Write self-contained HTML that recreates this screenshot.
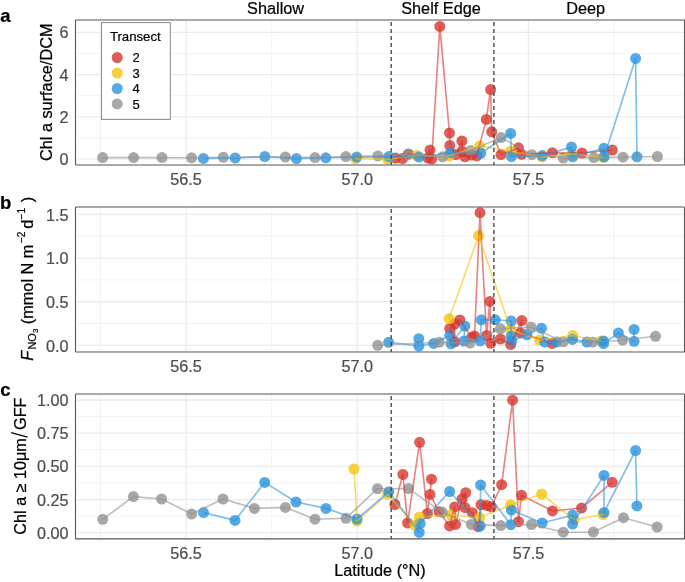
<!DOCTYPE html><html><head><meta charset="utf-8"><style>html,body{margin:0;padding:0;background:#fff;}svg{display:block;will-change:transform;}text{font-family:"Liberation Sans",sans-serif;stroke:currentColor;stroke-width:0.22px;}</style></head><body>
<svg width="685" height="582" viewBox="0 0 685 582">
<rect width="685" height="582" fill="#fff"/>
<clipPath id="clipa"><rect x="75.5" y="20.0" width="609.0" height="144.95"/></clipPath>
<clipPath id="gclipa"><rect x="77" y="20.6" width="606" height="143.75"/></clipPath>
<g clip-path="url(#gclipa)"><line x1="75.5" x2="684.5" y1="137.97" y2="137.97" stroke="#f2f2f2" stroke-width="0.9"/><line x1="75.5" x2="684.5" y1="95.71" y2="95.71" stroke="#f2f2f2" stroke-width="0.9"/><line x1="75.5" x2="684.5" y1="53.45" y2="53.45" stroke="#f2f2f2" stroke-width="0.9"/><line x1="100.45" x2="100.45" y1="20.0" y2="164.95" stroke="#f2f2f2" stroke-width="0.9"/><line x1="271.65" x2="271.65" y1="20.0" y2="164.95" stroke="#f2f2f2" stroke-width="0.9"/><line x1="442.85" x2="442.85" y1="20.0" y2="164.95" stroke="#f2f2f2" stroke-width="0.9"/><line x1="614.05" x2="614.05" y1="20.0" y2="164.95" stroke="#f2f2f2" stroke-width="0.9"/><line x1="75.5" x2="684.5" y1="159.10" y2="159.10" stroke="#ebebeb" stroke-width="1.3"/><line x1="75.5" x2="684.5" y1="116.84" y2="116.84" stroke="#ebebeb" stroke-width="1.3"/><line x1="75.5" x2="684.5" y1="74.58" y2="74.58" stroke="#ebebeb" stroke-width="1.3"/><line x1="75.5" x2="684.5" y1="32.32" y2="32.32" stroke="#ebebeb" stroke-width="1.3"/><line x1="186.05" x2="186.05" y1="20.0" y2="164.95" stroke="#ebebeb" stroke-width="1.3"/><line x1="357.25" x2="357.25" y1="20.0" y2="164.95" stroke="#ebebeb" stroke-width="1.3"/><line x1="528.45" x2="528.45" y1="20.0" y2="164.95" stroke="#ebebeb" stroke-width="1.3"/></g>
<g clip-path="url(#clipa)">
<circle cx="395.5" cy="158.0" r="5.5" fill="#d7362d" fill-opacity="0.8"/>
<circle cx="402.5" cy="158.5" r="5.5" fill="#d7362d" fill-opacity="0.8"/>
<circle cx="408.4" cy="153.9" r="5.5" fill="#d7362d" fill-opacity="0.8"/>
<circle cx="428.0" cy="158.0" r="5.5" fill="#d7362d" fill-opacity="0.8"/>
<circle cx="430.0" cy="150.1" r="5.5" fill="#d7362d" fill-opacity="0.8"/>
<circle cx="431.7" cy="159.1" r="5.5" fill="#d7362d" fill-opacity="0.8"/>
<circle cx="439.8" cy="26.4" r="5.5" fill="#d7362d" fill-opacity="0.8"/>
<circle cx="449.5" cy="133.0" r="5.5" fill="#d7362d" fill-opacity="0.8"/>
<circle cx="449.8" cy="145.4" r="5.5" fill="#d7362d" fill-opacity="0.8"/>
<circle cx="455.8" cy="154.6" r="5.5" fill="#d7362d" fill-opacity="0.8"/>
<circle cx="461.9" cy="141.0" r="5.5" fill="#d7362d" fill-opacity="0.8"/>
<circle cx="462.3" cy="151.5" r="5.5" fill="#d7362d" fill-opacity="0.8"/>
<circle cx="465.0" cy="156.8" r="5.5" fill="#d7362d" fill-opacity="0.8"/>
<circle cx="471.5" cy="155.0" r="5.5" fill="#d7362d" fill-opacity="0.8"/>
<circle cx="476.8" cy="155.9" r="5.5" fill="#d7362d" fill-opacity="0.8"/>
<circle cx="486.3" cy="119.4" r="5.5" fill="#d7362d" fill-opacity="0.8"/>
<circle cx="490.6" cy="89.6" r="5.5" fill="#d7362d" fill-opacity="0.8"/>
<circle cx="491.7" cy="131.8" r="5.5" fill="#d7362d" fill-opacity="0.8"/>
<circle cx="501.0" cy="154.6" r="5.5" fill="#d7362d" fill-opacity="0.8"/>
<circle cx="518.5" cy="147.8" r="5.5" fill="#d7362d" fill-opacity="0.8"/>
<circle cx="521.6" cy="154.3" r="5.5" fill="#d7362d" fill-opacity="0.8"/>
<circle cx="552.4" cy="152.7" r="5.5" fill="#d7362d" fill-opacity="0.8"/>
<circle cx="582.0" cy="153.0" r="5.5" fill="#d7362d" fill-opacity="0.8"/>
<circle cx="612.3" cy="150.0" r="5.5" fill="#d7362d" fill-opacity="0.8"/>
<circle cx="355.6" cy="158.6" r="5.5" fill="#f5c40f" fill-opacity="0.8"/>
<circle cx="387.5" cy="159.2" r="5.5" fill="#f5c40f" fill-opacity="0.8"/>
<circle cx="416.5" cy="155.6" r="5.5" fill="#f5c40f" fill-opacity="0.8"/>
<circle cx="449.0" cy="156.0" r="5.5" fill="#f5c40f" fill-opacity="0.8"/>
<circle cx="479.8" cy="145.8" r="5.5" fill="#f5c40f" fill-opacity="0.8"/>
<circle cx="511.0" cy="151.2" r="5.5" fill="#f5c40f" fill-opacity="0.8"/>
<circle cx="542.0" cy="157.0" r="5.5" fill="#f5c40f" fill-opacity="0.8"/>
<circle cx="572.0" cy="153.9" r="5.5" fill="#f5c40f" fill-opacity="0.8"/>
<circle cx="603.0" cy="157.5" r="5.5" fill="#f5c40f" fill-opacity="0.8"/>
<circle cx="203.4" cy="158.4" r="5.5" fill="#2b95e0" fill-opacity="0.8"/>
<circle cx="235.2" cy="158.0" r="5.5" fill="#2b95e0" fill-opacity="0.8"/>
<circle cx="264.8" cy="156.5" r="5.5" fill="#2b95e0" fill-opacity="0.8"/>
<circle cx="296.4" cy="158.6" r="5.5" fill="#2b95e0" fill-opacity="0.8"/>
<circle cx="325.8" cy="157.8" r="5.5" fill="#2b95e0" fill-opacity="0.8"/>
<circle cx="356.8" cy="157.1" r="5.5" fill="#2b95e0" fill-opacity="0.8"/>
<circle cx="388.9" cy="156.6" r="5.5" fill="#2b95e0" fill-opacity="0.8"/>
<circle cx="419.0" cy="157.1" r="5.5" fill="#2b95e0" fill-opacity="0.8"/>
<circle cx="450.1" cy="152.8" r="5.5" fill="#2b95e0" fill-opacity="0.8"/>
<circle cx="480.7" cy="153.3" r="5.5" fill="#2b95e0" fill-opacity="0.8"/>
<circle cx="510.7" cy="133.4" r="5.5" fill="#2b95e0" fill-opacity="0.8"/>
<circle cx="511.5" cy="156.6" r="5.5" fill="#2b95e0" fill-opacity="0.8"/>
<circle cx="542.3" cy="155.6" r="5.5" fill="#2b95e0" fill-opacity="0.8"/>
<circle cx="571.5" cy="147.1" r="5.5" fill="#2b95e0" fill-opacity="0.8"/>
<circle cx="572.7" cy="156.8" r="5.5" fill="#2b95e0" fill-opacity="0.8"/>
<circle cx="603.9" cy="148.3" r="5.5" fill="#2b95e0" fill-opacity="0.8"/>
<circle cx="604.2" cy="156.8" r="5.5" fill="#2b95e0" fill-opacity="0.8"/>
<circle cx="635.6" cy="58.4" r="5.5" fill="#2b95e0" fill-opacity="0.8"/>
<circle cx="637.0" cy="156.8" r="5.5" fill="#2b95e0" fill-opacity="0.8"/>
<circle cx="102.6" cy="157.6" r="5.5" fill="#929292" fill-opacity="0.8"/>
<circle cx="133.6" cy="157.6" r="5.5" fill="#929292" fill-opacity="0.8"/>
<circle cx="162.0" cy="157.6" r="5.5" fill="#929292" fill-opacity="0.8"/>
<circle cx="191.6" cy="157.8" r="5.5" fill="#929292" fill-opacity="0.8"/>
<circle cx="223.3" cy="157.3" r="5.5" fill="#929292" fill-opacity="0.8"/>
<circle cx="285.4" cy="157.0" r="5.5" fill="#929292" fill-opacity="0.8"/>
<circle cx="315.0" cy="157.6" r="5.5" fill="#929292" fill-opacity="0.8"/>
<circle cx="345.9" cy="156.6" r="5.5" fill="#929292" fill-opacity="0.8"/>
<circle cx="377.8" cy="155.9" r="5.5" fill="#929292" fill-opacity="0.8"/>
<circle cx="408.0" cy="154.5" r="5.5" fill="#929292" fill-opacity="0.8"/>
<circle cx="442.6" cy="156.8" r="5.5" fill="#929292" fill-opacity="0.8"/>
<circle cx="470.6" cy="150.6" r="5.5" fill="#929292" fill-opacity="0.8"/>
<circle cx="501.1" cy="137.6" r="5.5" fill="#929292" fill-opacity="0.8"/>
<circle cx="531.8" cy="154.7" r="5.5" fill="#929292" fill-opacity="0.8"/>
<circle cx="563.3" cy="158.0" r="5.5" fill="#929292" fill-opacity="0.8"/>
<circle cx="593.9" cy="157.6" r="5.5" fill="#929292" fill-opacity="0.8"/>
<circle cx="623.0" cy="157.2" r="5.5" fill="#929292" fill-opacity="0.8"/>
<circle cx="657.4" cy="156.5" r="5.5" fill="#929292" fill-opacity="0.8"/>
<polyline points="395.5,158.0 402.5,158.5 408.4,153.9 428.0,158.0 430.0,150.1 431.7,159.1 439.8,26.4 449.5,133.0 449.8,145.4 455.8,154.6 461.9,141.0 462.3,151.5 465.0,156.8 471.5,155.0 476.8,155.9 486.3,119.4 490.6,89.6 491.7,131.8 501.0,154.6 518.5,147.8 521.6,154.3 552.4,152.7 582.0,153.0 612.3,150.0" fill="none" stroke="#d7362d" stroke-opacity="0.6" stroke-width="1.65" stroke-linejoin="round"/>
<polyline points="355.6,158.6 387.5,159.2 416.5,155.6 449.0,156.0 479.8,145.8 511.0,151.2 542.0,157.0 572.0,153.9 603.0,157.5" fill="none" stroke="#f5c40f" stroke-opacity="0.6" stroke-width="1.65" stroke-linejoin="round"/>
<polyline points="203.4,158.4 235.2,158.0 264.8,156.5 296.4,158.6 325.8,157.8 356.8,157.1 388.9,156.6 419.0,157.1 450.1,152.8 480.7,153.3 510.7,133.4 511.5,156.6 542.3,155.6 571.5,147.1 572.7,156.8 603.9,148.3 604.2,156.8 635.6,58.4 637.0,156.8" fill="none" stroke="#2b95e0" stroke-opacity="0.6" stroke-width="1.65" stroke-linejoin="round"/>
<polyline points="102.6,157.6 133.6,157.6 162.0,157.6 191.6,157.8 223.3,157.3 285.4,157.0 315.0,157.6 345.9,156.6 377.8,155.9 408.0,154.5 442.6,156.8 470.6,150.6 501.1,137.6 531.8,154.7 563.3,158.0 593.9,157.6 623.0,157.2 657.4,156.5" fill="none" stroke="#929292" stroke-opacity="0.6" stroke-width="1.65" stroke-linejoin="round"/>
</g>
<line x1="391.19" x2="391.19" y1="22.0" y2="164.95" stroke="#4a4a4a" stroke-width="1.4" stroke-dasharray="4 3"/>
<line x1="493.91" x2="493.91" y1="22.0" y2="164.95" stroke="#4a4a4a" stroke-width="1.4" stroke-dasharray="4 3"/>
<line x1="75.5" x2="684.5" y1="20.0" y2="20.0" stroke="#555" stroke-width="1.1"/>
<line x1="75.5" x2="684.5" y1="164.95" y2="164.95" stroke="#555" stroke-width="1.1"/>
<line x1="75.5" x2="75.5" y1="20.0" y2="164.95" stroke="#555" stroke-width="1.1"/>
<line x1="684.5" x2="684.5" y1="20.0" y2="164.95" stroke="#555" stroke-width="1.1"/>
<text x="68.5" y="165.20" font-size="16.2" fill="#4d4d4d" color="#4d4d4d" text-anchor="end">0</text>
<text x="68.5" y="122.94" font-size="16.2" fill="#4d4d4d" color="#4d4d4d" text-anchor="end">2</text>
<text x="68.5" y="80.68" font-size="16.2" fill="#4d4d4d" color="#4d4d4d" text-anchor="end">4</text>
<text x="68.5" y="38.42" font-size="16.2" fill="#4d4d4d" color="#4d4d4d" text-anchor="end">6</text>
<text x="186.05" y="184.55" font-size="16.2" fill="#4d4d4d" color="#4d4d4d" text-anchor="middle">56.5</text>
<text x="357.25" y="184.55" font-size="16.2" fill="#4d4d4d" color="#4d4d4d" text-anchor="middle">57.0</text>
<text x="528.45" y="184.55" font-size="16.2" fill="#4d4d4d" color="#4d4d4d" text-anchor="middle">57.5</text>
<clipPath id="clipb"><rect x="75.5" y="207.0" width="609.0" height="145.0"/></clipPath>
<clipPath id="gclipb"><rect x="77" y="207.6" width="606" height="143.8"/></clipPath>
<g clip-path="url(#gclipb)"><line x1="75.5" x2="684.5" y1="323.57" y2="323.57" stroke="#f2f2f2" stroke-width="0.9"/><line x1="75.5" x2="684.5" y1="279.92" y2="279.92" stroke="#f2f2f2" stroke-width="0.9"/><line x1="75.5" x2="684.5" y1="236.27" y2="236.27" stroke="#f2f2f2" stroke-width="0.9"/><line x1="100.45" x2="100.45" y1="207.0" y2="352.0" stroke="#f2f2f2" stroke-width="0.9"/><line x1="271.65" x2="271.65" y1="207.0" y2="352.0" stroke="#f2f2f2" stroke-width="0.9"/><line x1="442.85" x2="442.85" y1="207.0" y2="352.0" stroke="#f2f2f2" stroke-width="0.9"/><line x1="614.05" x2="614.05" y1="207.0" y2="352.0" stroke="#f2f2f2" stroke-width="0.9"/><line x1="75.5" x2="684.5" y1="345.40" y2="345.40" stroke="#ebebeb" stroke-width="1.3"/><line x1="75.5" x2="684.5" y1="301.75" y2="301.75" stroke="#ebebeb" stroke-width="1.3"/><line x1="75.5" x2="684.5" y1="258.10" y2="258.10" stroke="#ebebeb" stroke-width="1.3"/><line x1="75.5" x2="684.5" y1="214.45" y2="214.45" stroke="#ebebeb" stroke-width="1.3"/><line x1="186.05" x2="186.05" y1="207.0" y2="352.0" stroke="#ebebeb" stroke-width="1.3"/><line x1="357.25" x2="357.25" y1="207.0" y2="352.0" stroke="#ebebeb" stroke-width="1.3"/><line x1="528.45" x2="528.45" y1="207.0" y2="352.0" stroke="#ebebeb" stroke-width="1.3"/></g>
<g clip-path="url(#clipb)">
<circle cx="449.8" cy="328.4" r="5.5" fill="#d7362d" fill-opacity="0.8"/>
<circle cx="454.7" cy="341.8" r="5.5" fill="#d7362d" fill-opacity="0.8"/>
<circle cx="454.7" cy="324.0" r="5.5" fill="#d7362d" fill-opacity="0.8"/>
<circle cx="459.9" cy="320.0" r="5.5" fill="#d7362d" fill-opacity="0.8"/>
<circle cx="471.6" cy="337.3" r="5.5" fill="#d7362d" fill-opacity="0.8"/>
<circle cx="474.5" cy="336.0" r="5.5" fill="#d7362d" fill-opacity="0.8"/>
<circle cx="480.0" cy="212.7" r="5.5" fill="#d7362d" fill-opacity="0.8"/>
<circle cx="486.5" cy="335.4" r="5.5" fill="#d7362d" fill-opacity="0.8"/>
<circle cx="489.9" cy="301.4" r="5.5" fill="#d7362d" fill-opacity="0.8"/>
<circle cx="490.7" cy="343.3" r="5.5" fill="#d7362d" fill-opacity="0.8"/>
<circle cx="500.4" cy="339.0" r="5.5" fill="#d7362d" fill-opacity="0.8"/>
<circle cx="510.6" cy="344.5" r="5.5" fill="#d7362d" fill-opacity="0.8"/>
<circle cx="521.8" cy="320.6" r="5.5" fill="#d7362d" fill-opacity="0.8"/>
<circle cx="520.5" cy="332.9" r="5.5" fill="#d7362d" fill-opacity="0.8"/>
<circle cx="552.0" cy="343.4" r="5.5" fill="#d7362d" fill-opacity="0.8"/>
<circle cx="449.2" cy="318.7" r="5.5" fill="#f5c40f" fill-opacity="0.8"/>
<circle cx="478.6" cy="235.6" r="5.5" fill="#f5c40f" fill-opacity="0.8"/>
<circle cx="510.6" cy="329.4" r="5.5" fill="#f5c40f" fill-opacity="0.8"/>
<circle cx="539.6" cy="340.1" r="5.5" fill="#f5c40f" fill-opacity="0.8"/>
<circle cx="572.8" cy="335.5" r="5.5" fill="#f5c40f" fill-opacity="0.8"/>
<circle cx="601.0" cy="341.0" r="5.5" fill="#f5c40f" fill-opacity="0.8"/>
<circle cx="388.6" cy="342.3" r="5.5" fill="#2b95e0" fill-opacity="0.8"/>
<circle cx="418.8" cy="338.7" r="5.5" fill="#2b95e0" fill-opacity="0.8"/>
<circle cx="418.8" cy="346.0" r="5.5" fill="#2b95e0" fill-opacity="0.8"/>
<circle cx="433.7" cy="343.4" r="5.5" fill="#2b95e0" fill-opacity="0.8"/>
<circle cx="449.8" cy="335.3" r="5.5" fill="#2b95e0" fill-opacity="0.8"/>
<circle cx="451.0" cy="343.8" r="5.5" fill="#2b95e0" fill-opacity="0.8"/>
<circle cx="464.8" cy="326.0" r="5.5" fill="#2b95e0" fill-opacity="0.8"/>
<circle cx="464.0" cy="341.0" r="5.5" fill="#2b95e0" fill-opacity="0.8"/>
<circle cx="480.2" cy="340.9" r="5.5" fill="#2b95e0" fill-opacity="0.8"/>
<circle cx="481.3" cy="319.8" r="5.5" fill="#2b95e0" fill-opacity="0.8"/>
<circle cx="495.2" cy="319.8" r="5.5" fill="#2b95e0" fill-opacity="0.8"/>
<circle cx="511.2" cy="321.0" r="5.5" fill="#2b95e0" fill-opacity="0.8"/>
<circle cx="511.2" cy="336.3" r="5.5" fill="#2b95e0" fill-opacity="0.8"/>
<circle cx="511.6" cy="341.0" r="5.5" fill="#2b95e0" fill-opacity="0.8"/>
<circle cx="527.0" cy="334.8" r="5.5" fill="#2b95e0" fill-opacity="0.8"/>
<circle cx="541.5" cy="328.3" r="5.5" fill="#2b95e0" fill-opacity="0.8"/>
<circle cx="544.8" cy="342.0" r="5.5" fill="#2b95e0" fill-opacity="0.8"/>
<circle cx="556.6" cy="342.0" r="5.5" fill="#2b95e0" fill-opacity="0.8"/>
<circle cx="572.4" cy="339.4" r="5.5" fill="#2b95e0" fill-opacity="0.8"/>
<circle cx="586.9" cy="342.0" r="5.5" fill="#2b95e0" fill-opacity="0.8"/>
<circle cx="603.6" cy="340.9" r="5.5" fill="#2b95e0" fill-opacity="0.8"/>
<circle cx="603.6" cy="343.7" r="5.5" fill="#2b95e0" fill-opacity="0.8"/>
<circle cx="618.4" cy="333.0" r="5.5" fill="#2b95e0" fill-opacity="0.8"/>
<circle cx="634.1" cy="341.3" r="5.5" fill="#2b95e0" fill-opacity="0.8"/>
<circle cx="634.1" cy="329.4" r="5.5" fill="#2b95e0" fill-opacity="0.8"/>
<circle cx="377.7" cy="345.3" r="5.5" fill="#929292" fill-opacity="0.8"/>
<circle cx="439.3" cy="342.2" r="5.5" fill="#929292" fill-opacity="0.8"/>
<circle cx="470.0" cy="343.0" r="5.5" fill="#929292" fill-opacity="0.8"/>
<circle cx="500.4" cy="328.8" r="5.5" fill="#929292" fill-opacity="0.8"/>
<circle cx="531.0" cy="327.0" r="5.5" fill="#929292" fill-opacity="0.8"/>
<circle cx="563.2" cy="341.8" r="5.5" fill="#929292" fill-opacity="0.8"/>
<circle cx="592.8" cy="342.2" r="5.5" fill="#929292" fill-opacity="0.8"/>
<circle cx="622.6" cy="340.2" r="5.5" fill="#929292" fill-opacity="0.8"/>
<circle cx="655.5" cy="336.3" r="5.5" fill="#929292" fill-opacity="0.8"/>
<polyline points="449.8,328.4 454.7,341.8 454.7,324.0 459.9,320.0 471.6,337.3 474.5,336.0 480.0,212.7 486.5,335.4 489.9,301.4 490.7,343.3 500.4,339.0 510.6,344.5 521.8,320.6 520.5,332.9 552.0,343.4" fill="none" stroke="#d7362d" stroke-opacity="0.6" stroke-width="1.65" stroke-linejoin="round"/>
<polyline points="449.2,318.7 478.6,235.6 510.6,329.4 539.6,340.1 572.8,335.5 601.0,341.0" fill="none" stroke="#f5c40f" stroke-opacity="0.6" stroke-width="1.65" stroke-linejoin="round"/>
<polyline points="388.6,342.3 418.8,346.0 433.7,343.4 449.8,335.3 451.0,343.8 464.8,326.0 464.0,341.0 480.2,340.9 481.3,319.8 495.2,319.8 511.2,321.0 511.2,336.3 511.6,341.0 527.0,334.8 541.5,328.3 544.8,342.0 556.6,342.0 572.4,339.4 586.9,342.0 603.6,340.9 603.6,343.7 618.4,333.0 634.1,341.3 634.1,329.4" fill="none" stroke="#2b95e0" stroke-opacity="0.6" stroke-width="1.65" stroke-linejoin="round"/>
<polyline points="377.7,345.3 439.3,342.2 470.0,343.0 500.4,328.8 531.0,327.0 563.2,341.8 592.8,342.2 622.6,340.2 655.5,336.3" fill="none" stroke="#929292" stroke-opacity="0.6" stroke-width="1.65" stroke-linejoin="round"/>
</g>
<line x1="391.19" x2="391.19" y1="209.0" y2="352.0" stroke="#4a4a4a" stroke-width="1.4" stroke-dasharray="4 3"/>
<line x1="493.91" x2="493.91" y1="209.0" y2="352.0" stroke="#4a4a4a" stroke-width="1.4" stroke-dasharray="4 3"/>
<line x1="75.5" x2="684.5" y1="207.0" y2="207.0" stroke="#555" stroke-width="1.1"/>
<line x1="75.5" x2="684.5" y1="352.0" y2="352.0" stroke="#555" stroke-width="1.1"/>
<line x1="75.5" x2="75.5" y1="207.0" y2="352.0" stroke="#555" stroke-width="1.1"/>
<line x1="684.5" x2="684.5" y1="207.0" y2="352.0" stroke="#555" stroke-width="1.1"/>
<text x="68.5" y="351.50" font-size="16.2" fill="#4d4d4d" color="#4d4d4d" text-anchor="end">0.0</text>
<text x="68.5" y="307.85" font-size="16.2" fill="#4d4d4d" color="#4d4d4d" text-anchor="end">0.5</text>
<text x="68.5" y="264.20" font-size="16.2" fill="#4d4d4d" color="#4d4d4d" text-anchor="end">1.0</text>
<text x="68.5" y="220.55" font-size="16.2" fill="#4d4d4d" color="#4d4d4d" text-anchor="end">1.5</text>
<text x="186.05" y="371.60" font-size="16.2" fill="#4d4d4d" color="#4d4d4d" text-anchor="middle">56.5</text>
<text x="357.25" y="371.60" font-size="16.2" fill="#4d4d4d" color="#4d4d4d" text-anchor="middle">57.0</text>
<text x="528.45" y="371.60" font-size="16.2" fill="#4d4d4d" color="#4d4d4d" text-anchor="middle">57.5</text>
<clipPath id="clipc"><rect x="75.5" y="394.0" width="609.0" height="144.89999999999998"/></clipPath>
<clipPath id="gclipc"><rect x="77" y="394.6" width="606" height="143.7"/></clipPath>
<g clip-path="url(#gclipc)"><line x1="75.5" x2="684.5" y1="516.11" y2="516.11" stroke="#f2f2f2" stroke-width="0.9"/><line x1="75.5" x2="684.5" y1="482.94" y2="482.94" stroke="#f2f2f2" stroke-width="0.9"/><line x1="75.5" x2="684.5" y1="449.76" y2="449.76" stroke="#f2f2f2" stroke-width="0.9"/><line x1="75.5" x2="684.5" y1="416.59" y2="416.59" stroke="#f2f2f2" stroke-width="0.9"/><line x1="100.45" x2="100.45" y1="394.0" y2="538.9" stroke="#f2f2f2" stroke-width="0.9"/><line x1="271.65" x2="271.65" y1="394.0" y2="538.9" stroke="#f2f2f2" stroke-width="0.9"/><line x1="442.85" x2="442.85" y1="394.0" y2="538.9" stroke="#f2f2f2" stroke-width="0.9"/><line x1="614.05" x2="614.05" y1="394.0" y2="538.9" stroke="#f2f2f2" stroke-width="0.9"/><line x1="75.5" x2="684.5" y1="532.70" y2="532.70" stroke="#ebebeb" stroke-width="1.3"/><line x1="75.5" x2="684.5" y1="499.53" y2="499.53" stroke="#ebebeb" stroke-width="1.3"/><line x1="75.5" x2="684.5" y1="466.35" y2="466.35" stroke="#ebebeb" stroke-width="1.3"/><line x1="75.5" x2="684.5" y1="433.18" y2="433.18" stroke="#ebebeb" stroke-width="1.3"/><line x1="75.5" x2="684.5" y1="400.00" y2="400.00" stroke="#ebebeb" stroke-width="1.3"/><line x1="186.05" x2="186.05" y1="394.0" y2="538.9" stroke="#ebebeb" stroke-width="1.3"/><line x1="357.25" x2="357.25" y1="394.0" y2="538.9" stroke="#ebebeb" stroke-width="1.3"/><line x1="528.45" x2="528.45" y1="394.0" y2="538.9" stroke="#ebebeb" stroke-width="1.3"/></g>
<g clip-path="url(#clipc)">
<circle cx="394.9" cy="504.5" r="5.5" fill="#d7362d" fill-opacity="0.8"/>
<circle cx="402.9" cy="474.4" r="5.5" fill="#d7362d" fill-opacity="0.8"/>
<circle cx="407.6" cy="523.0" r="5.5" fill="#d7362d" fill-opacity="0.8"/>
<circle cx="419.6" cy="442.3" r="5.5" fill="#d7362d" fill-opacity="0.8"/>
<circle cx="427.4" cy="513.5" r="5.5" fill="#d7362d" fill-opacity="0.8"/>
<circle cx="431.5" cy="479.2" r="5.5" fill="#d7362d" fill-opacity="0.8"/>
<circle cx="430.0" cy="494.4" r="5.5" fill="#d7362d" fill-opacity="0.8"/>
<circle cx="439.1" cy="511.7" r="5.5" fill="#d7362d" fill-opacity="0.8"/>
<circle cx="449.6" cy="525.9" r="5.5" fill="#d7362d" fill-opacity="0.8"/>
<circle cx="454.7" cy="506.9" r="5.5" fill="#d7362d" fill-opacity="0.8"/>
<circle cx="455.5" cy="524.4" r="5.5" fill="#d7362d" fill-opacity="0.8"/>
<circle cx="462.0" cy="498.9" r="5.5" fill="#d7362d" fill-opacity="0.8"/>
<circle cx="465.7" cy="492.7" r="5.5" fill="#d7362d" fill-opacity="0.8"/>
<circle cx="465.0" cy="507.6" r="5.5" fill="#d7362d" fill-opacity="0.8"/>
<circle cx="472.3" cy="512.7" r="5.5" fill="#d7362d" fill-opacity="0.8"/>
<circle cx="478.1" cy="526.6" r="5.5" fill="#d7362d" fill-opacity="0.8"/>
<circle cx="481.0" cy="504.7" r="5.5" fill="#d7362d" fill-opacity="0.8"/>
<circle cx="486.9" cy="505.4" r="5.5" fill="#d7362d" fill-opacity="0.8"/>
<circle cx="491.3" cy="506.9" r="5.5" fill="#d7362d" fill-opacity="0.8"/>
<circle cx="501.6" cy="484.7" r="5.5" fill="#d7362d" fill-opacity="0.8"/>
<circle cx="512.6" cy="400.2" r="5.5" fill="#d7362d" fill-opacity="0.8"/>
<circle cx="518.5" cy="521.7" r="5.5" fill="#d7362d" fill-opacity="0.8"/>
<circle cx="521.5" cy="495.3" r="5.5" fill="#d7362d" fill-opacity="0.8"/>
<circle cx="552.5" cy="510.9" r="5.5" fill="#d7362d" fill-opacity="0.8"/>
<circle cx="581.5" cy="508.0" r="5.5" fill="#d7362d" fill-opacity="0.8"/>
<circle cx="612.2" cy="482.3" r="5.5" fill="#d7362d" fill-opacity="0.8"/>
<circle cx="354.0" cy="469.0" r="5.5" fill="#f5c40f" fill-opacity="0.8"/>
<circle cx="357.0" cy="521.0" r="5.5" fill="#f5c40f" fill-opacity="0.8"/>
<circle cx="387.6" cy="494.1" r="5.5" fill="#f5c40f" fill-opacity="0.8"/>
<circle cx="414.8" cy="525.2" r="5.5" fill="#f5c40f" fill-opacity="0.8"/>
<circle cx="419.3" cy="517.0" r="5.5" fill="#f5c40f" fill-opacity="0.8"/>
<circle cx="451.0" cy="515.0" r="5.5" fill="#f5c40f" fill-opacity="0.8"/>
<circle cx="479.6" cy="517.6" r="5.5" fill="#f5c40f" fill-opacity="0.8"/>
<circle cx="510.6" cy="505.0" r="5.5" fill="#f5c40f" fill-opacity="0.8"/>
<circle cx="541.7" cy="494.0" r="5.5" fill="#f5c40f" fill-opacity="0.8"/>
<circle cx="574.0" cy="519.9" r="5.5" fill="#f5c40f" fill-opacity="0.8"/>
<circle cx="603.0" cy="514.5" r="5.5" fill="#f5c40f" fill-opacity="0.8"/>
<circle cx="203.5" cy="512.6" r="5.5" fill="#2b95e0" fill-opacity="0.8"/>
<circle cx="235.0" cy="520.4" r="5.5" fill="#2b95e0" fill-opacity="0.8"/>
<circle cx="264.7" cy="482.4" r="5.5" fill="#2b95e0" fill-opacity="0.8"/>
<circle cx="296.0" cy="502.0" r="5.5" fill="#2b95e0" fill-opacity="0.8"/>
<circle cx="326.0" cy="508.4" r="5.5" fill="#2b95e0" fill-opacity="0.8"/>
<circle cx="357.0" cy="519.0" r="5.5" fill="#2b95e0" fill-opacity="0.8"/>
<circle cx="388.9" cy="491.7" r="5.5" fill="#2b95e0" fill-opacity="0.8"/>
<circle cx="419.3" cy="532.4" r="5.5" fill="#2b95e0" fill-opacity="0.8"/>
<circle cx="420.2" cy="523.4" r="5.5" fill="#2b95e0" fill-opacity="0.8"/>
<circle cx="449.6" cy="491.5" r="5.5" fill="#2b95e0" fill-opacity="0.8"/>
<circle cx="480.3" cy="525.9" r="5.5" fill="#2b95e0" fill-opacity="0.8"/>
<circle cx="480.6" cy="485.0" r="5.5" fill="#2b95e0" fill-opacity="0.8"/>
<circle cx="510.9" cy="524.7" r="5.5" fill="#2b95e0" fill-opacity="0.8"/>
<circle cx="511.3" cy="510.0" r="5.5" fill="#2b95e0" fill-opacity="0.8"/>
<circle cx="542.2" cy="523.0" r="5.5" fill="#2b95e0" fill-opacity="0.8"/>
<circle cx="572.6" cy="515.1" r="5.5" fill="#2b95e0" fill-opacity="0.8"/>
<circle cx="572.6" cy="524.1" r="5.5" fill="#2b95e0" fill-opacity="0.8"/>
<circle cx="604.0" cy="475.4" r="5.5" fill="#2b95e0" fill-opacity="0.8"/>
<circle cx="604.0" cy="512.4" r="5.5" fill="#2b95e0" fill-opacity="0.8"/>
<circle cx="635.6" cy="450.5" r="5.5" fill="#2b95e0" fill-opacity="0.8"/>
<circle cx="636.9" cy="505.9" r="5.5" fill="#2b95e0" fill-opacity="0.8"/>
<circle cx="102.7" cy="519.3" r="5.5" fill="#929292" fill-opacity="0.8"/>
<circle cx="133.4" cy="496.6" r="5.5" fill="#929292" fill-opacity="0.8"/>
<circle cx="161.6" cy="499.0" r="5.5" fill="#929292" fill-opacity="0.8"/>
<circle cx="191.6" cy="514.0" r="5.5" fill="#929292" fill-opacity="0.8"/>
<circle cx="223.0" cy="499.0" r="5.5" fill="#929292" fill-opacity="0.8"/>
<circle cx="254.4" cy="508.4" r="5.5" fill="#929292" fill-opacity="0.8"/>
<circle cx="285.4" cy="507.4" r="5.5" fill="#929292" fill-opacity="0.8"/>
<circle cx="315.0" cy="519.2" r="5.5" fill="#929292" fill-opacity="0.8"/>
<circle cx="346.0" cy="518.3" r="5.5" fill="#929292" fill-opacity="0.8"/>
<circle cx="377.5" cy="488.7" r="5.5" fill="#929292" fill-opacity="0.8"/>
<circle cx="408.5" cy="488.6" r="5.5" fill="#929292" fill-opacity="0.8"/>
<circle cx="442.3" cy="512.3" r="5.5" fill="#929292" fill-opacity="0.8"/>
<circle cx="471.3" cy="524.4" r="5.5" fill="#929292" fill-opacity="0.8"/>
<circle cx="500.8" cy="525.6" r="5.5" fill="#929292" fill-opacity="0.8"/>
<circle cx="531.5" cy="524.5" r="5.5" fill="#929292" fill-opacity="0.8"/>
<circle cx="563.3" cy="532.2" r="5.5" fill="#929292" fill-opacity="0.8"/>
<circle cx="593.3" cy="532.1" r="5.5" fill="#929292" fill-opacity="0.8"/>
<circle cx="623.4" cy="517.7" r="5.5" fill="#929292" fill-opacity="0.8"/>
<circle cx="657.1" cy="527.0" r="5.5" fill="#929292" fill-opacity="0.8"/>
<polyline points="394.9,504.5 402.9,474.4 407.6,523.0 419.6,442.3 427.4,513.5 431.5,479.2 430.0,494.4 439.1,511.7 449.6,525.9 454.7,506.9 455.5,524.4 462.0,498.9 465.7,492.7 465.0,507.6 472.3,512.7 478.1,526.6 481.0,504.7 486.9,505.4 491.3,506.9 501.6,484.7 512.6,400.2 518.5,521.7 521.5,495.3 552.5,510.9 581.5,508.0 612.2,482.3" fill="none" stroke="#d7362d" stroke-opacity="0.6" stroke-width="1.65" stroke-linejoin="round"/>
<polyline points="354.0,469.0 357.0,521.0 387.6,494.1 414.8,525.2 419.3,517.0 451.0,515.0 479.6,517.6 510.6,505.0 541.7,494.0 574.0,519.9 603.0,514.5" fill="none" stroke="#f5c40f" stroke-opacity="0.6" stroke-width="1.65" stroke-linejoin="round"/>
<polyline points="203.5,512.6 235.0,520.4 264.7,482.4 296.0,502.0 326.0,508.4 357.0,519.0 388.9,491.7 419.3,532.4 420.2,523.4 449.6,491.5 480.3,525.9 480.6,485.0 510.9,524.7 511.3,510.0 542.2,523.0 572.6,515.1 572.6,524.1 604.0,475.4 604.0,512.4 635.6,450.5 636.9,505.9" fill="none" stroke="#2b95e0" stroke-opacity="0.6" stroke-width="1.65" stroke-linejoin="round"/>
<polyline points="102.7,519.3 133.4,496.6 161.6,499.0 191.6,514.0 223.0,499.0 254.4,508.4 285.4,507.4 315.0,519.2 346.0,518.3 377.5,488.7 408.5,488.6 442.3,512.3 471.3,524.4 500.8,525.6 531.5,524.5 563.3,532.2 593.3,532.1 623.4,517.7 657.1,527.0" fill="none" stroke="#929292" stroke-opacity="0.6" stroke-width="1.65" stroke-linejoin="round"/>
</g>
<line x1="391.19" x2="391.19" y1="396.0" y2="538.9" stroke="#4a4a4a" stroke-width="1.4" stroke-dasharray="4 3"/>
<line x1="493.91" x2="493.91" y1="396.0" y2="538.9" stroke="#4a4a4a" stroke-width="1.4" stroke-dasharray="4 3"/>
<line x1="75.5" x2="684.5" y1="394.0" y2="394.0" stroke="#555" stroke-width="1.1"/>
<line x1="75.5" x2="684.5" y1="538.9" y2="538.9" stroke="#555" stroke-width="1.1"/>
<line x1="75.5" x2="75.5" y1="394.0" y2="538.9" stroke="#555" stroke-width="1.1"/>
<line x1="684.5" x2="684.5" y1="394.0" y2="538.9" stroke="#555" stroke-width="1.1"/>
<text x="68.5" y="538.80" font-size="16.2" fill="#4d4d4d" color="#4d4d4d" text-anchor="end">0.00</text>
<text x="68.5" y="505.63" font-size="16.2" fill="#4d4d4d" color="#4d4d4d" text-anchor="end">0.25</text>
<text x="68.5" y="472.45" font-size="16.2" fill="#4d4d4d" color="#4d4d4d" text-anchor="end">0.50</text>
<text x="68.5" y="439.28" font-size="16.2" fill="#4d4d4d" color="#4d4d4d" text-anchor="end">0.75</text>
<text x="68.5" y="406.10" font-size="16.2" fill="#4d4d4d" color="#4d4d4d" text-anchor="end">1.00</text>
<text x="186.05" y="558.50" font-size="16.2" fill="#4d4d4d" color="#4d4d4d" text-anchor="middle">56.5</text>
<text x="357.25" y="558.50" font-size="16.2" fill="#4d4d4d" color="#4d4d4d" text-anchor="middle">57.0</text>
<text x="528.45" y="558.50" font-size="16.2" fill="#4d4d4d" color="#4d4d4d" text-anchor="middle">57.5</text>
<text x="0.2" y="22.2" font-size="18.5" font-weight="bold" fill="#000" color="#000">a</text>
<text x="0" y="208.8" font-size="18.5" font-weight="bold" fill="#000" color="#000">b</text>
<text x="0.2" y="395.9" font-size="18.5" font-weight="bold" fill="#000" color="#000">c</text>
<text x="275.6" y="14" font-size="16.3" fill="#000" color="#000" text-anchor="middle">Shallow</text>
<text x="441" y="14" font-size="16.3" fill="#000" color="#000" text-anchor="middle">Shelf Edge</text>
<text x="585.6" y="14" font-size="16.3" fill="#000" color="#000" text-anchor="middle">Deep</text>
<text transform="translate(52,92.3) rotate(-90)" font-size="16.3" fill="#000" color="#000" text-anchor="middle">Chl a surface/DCM</text>
<g transform="translate(32.8,360.3) rotate(-90)" fill="#000" color="#000">
<text x="-0.5" y="0" font-size="16.3" font-style="italic">F</text>
<text x="10.7" y="3" font-size="11">NO</text>
<text x="27.5" y="5.6" font-size="7.5">3</text>
<text x="36.1" y="0" font-size="16.3">(mmol N m</text>
<text x="117.2" y="-8" font-size="10.2">−2</text>
<text x="131.5" y="0" font-size="16.3">d</text>
<text x="140.9" y="-8" font-size="10.2">−1</text>
<text x="158" y="0" font-size="16.3">)</text>
</g>
<g transform="translate(25.7,533.8) rotate(-90)" fill="#000" color="#000">
<text x="-0.83" y="0" font-size="16.2">Chl a ≥ 10μm</text>
<text x="103.8" y="0" font-size="16.3">GFF</text>
</g>
<line x1="11.2" y1="432.6" x2="27.5" y2="437.1" stroke="#000" stroke-width="1.25"/>
<text x="380" y="576.2" font-size="16.3" fill="#000" color="#000" text-anchor="middle">Latitude (°N)</text>
<rect x="101.5" y="22.6" width="68.8" height="96.8" fill="#fff" stroke="#888" stroke-width="1"/>
<text x="109.9" y="41.1" font-size="13.2" fill="#000" color="#000">Transect</text>
<circle cx="117.2" cy="57.5" r="5.5" fill="#d7362d" fill-opacity="0.8"/>
<text x="132.4" y="62.2" font-size="13" fill="#000" color="#000">2</text>
<circle cx="117.2" cy="73.0" r="5.5" fill="#f5c40f" fill-opacity="0.8"/>
<text x="132.4" y="77.7" font-size="13" fill="#000" color="#000">3</text>
<circle cx="117.2" cy="88.5" r="5.5" fill="#2b95e0" fill-opacity="0.8"/>
<text x="132.4" y="93.2" font-size="13" fill="#000" color="#000">4</text>
<circle cx="117.2" cy="103.9" r="5.5" fill="#929292" fill-opacity="0.8"/>
<text x="132.4" y="108.6" font-size="13" fill="#000" color="#000">5</text>
</svg></body></html>
